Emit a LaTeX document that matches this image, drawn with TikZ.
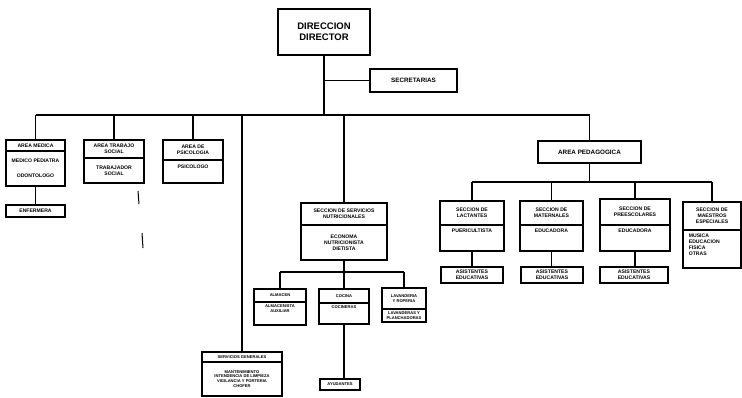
\documentclass[tikz,border=0pt]{standalone}
\usepackage{fontspec}
\setmainfont{Liberation Sans}
\begin{document}
\begin{tikzpicture}[x=1pt,y=-1pt,
  box/.style={draw,line width=1.7pt,inner sep=0.5pt,align=center,font=\bfseries\fontsize{5.1}{5.9}\selectfont},
  txt/.style={inner sep=0.5pt,align=center,font=\bfseries\fontsize{5.1}{5.9}\selectfont},
  big/.style={font=\bfseries\fontsize{9.5}{11}\selectfont},
  mid/.style={font=\bfseries\fontsize{6.3}{7.3}\selectfont},
  tiny/.style={font=\bfseries\fontsize{4.1}{4.9}\selectfont},
  conn/.style={line width=1.6pt},
  stray/.style={line width=1pt}]
\useasboundingbox[fill=white] (0,0) rectangle (742,397);
\newcommand{\mkbox}[7][]{\node[box,minimum width=#5pt,minimum height=#6pt,#1] (#2) at ({#3+#5/2},{#4+#6/2}) {#7};}
% top
\mkbox[big]{dir}{278}{9}{92}{46}{DIRECCION\\DIRECTOR}
\mkbox[mid]{sec}{370}{69}{87}{23}{SECRETARIAS}
\coordinate (bus) at (0,115);
% left areas
\mkbox{medA}{6}{140}{59}{11}{AREA MEDICA}
\mkbox{medB}{6}{151}{59}{35}{MEDICO PEDIATRA\\[9pt]ODONTOLOGO}
\mkbox{enf}{6}{205}{59}{12}{ENFERMERA}
\mkbox{tsA}{84}{140}{60}{18}{AREA TRABAJO\\SOCIAL}
\mkbox{tsB}{84}{158}{60}{25}{TRABAJADOR\\SOCIAL}
\mkbox{psiA}{163}{140}{60}{20}{AREA DE\\PSICOLOGIA}
\mkbox{psiB}{163}{160}{60}{23}{}
\node[txt,anchor=north] (psiT) at ([yshift=-5pt]psiB.north) {PSICOLOGO};
% servicios generales
\mkbox[tiny]{sgA}{202}{352}{80}{10}{SERVICIOS GENERALES}
\mkbox[tiny]{sgB}{202}{362}{80}{34}{MANTENIMIENTO\\INTENDENCIA DE LIMPIEZA\\VIGILANCIA Y PORTERIA\\CHOFER}
% nutricion
\mkbox{snA}{301}{203}{86}{22}{SECCION DE SERVICIOS\\NUTRICIONALES}
\mkbox{snB}{301}{225}{86}{35}{ECONOMA\\NUTRICIONISTA\\DIETISTA}
\mkbox[tiny]{almA}{254}{289}{52}{13}{ALMACEN}
\mkbox[tiny]{almB}{254}{302}{52}{23}{}
\node[txt,tiny,anchor=north] (almT) at ([yshift=-3pt]almB.north) {ALMACENISTA\\AUXILIAR};
\mkbox[tiny]{cocA}{319}{289}{50}{14}{COCINA}
\mkbox[tiny]{cocB}{319}{303}{50}{21}{}
\node[txt,tiny,anchor=north] (cocT) at ([yshift=-3pt]cocB.north) {COCINERAS};
\mkbox[tiny]{lavA}{382}{288}{44}{21}{LAVANDERIA\\Y ROPERIA}
\mkbox[tiny]{lavB}{382}{309}{44}{13}{LAVANDERAS Y\\PLANCHADORAS}
\mkbox[tiny]{ayu}{320}{379}{40}{11}{AYUDANTES}
% pedagogica
\mkbox[mid]{ped}{538}{141}{103}{22}{AREA PEDAGOGICA}
\coordinate (bus2) at (0,182);
\mkbox{lacA}{440}{201}{64}{24}{SECCION DE\\LACTANTES}
\mkbox{lacB}{440}{225}{64}{26}{}
\node[txt,anchor=north] (lacT) at ([yshift=-4pt]lacB.north) {PUERICULTISTA};
\mkbox{matA}{520}{201}{63}{24}{SECCION DE\\MATERNALES}
\mkbox{matB}{520}{225}{63}{26}{}
\node[txt,anchor=north] (matT) at ([yshift=-4pt]matB.north) {EDUCADORA};
\mkbox{preA}{600}{199}{70}{26}{SECCION DE\\PREESCOLARES}
\mkbox{preB}{600}{225}{70}{26}{}
\node[txt,anchor=north] (preT) at ([yshift=-4pt]preB.north) {EDUCADORA};
\mkbox{espA}{683}{202}{58}{28}{SECCION DE\\MAESTROS\\ESPECIALES}
\mkbox{espB}{683}{230}{58}{38}{}
\node[txt,anchor=north west,align=left] (espT) at ([xshift=6pt,yshift=-4pt]espB.north west) {MUSICA\\EDUCACION\\FISICA\\OTRAS};
\mkbox{lacS}{441}{267}{62}{16}{ASISTENTES\\EDUCATIVAS}
\mkbox{matS}{521}{267}{62}{16}{ASISTENTES\\EDUCATIVAS}
\mkbox{preS}{600}{267}{68}{16}{ASISTENTES\\EDUCATIVAS}
% connectors
\draw[conn] (dir.south) -- (dir.south |- bus);
\draw[conn] (dir.south |- sec.west) -- (sec.west);
\draw[conn] (medA.north |- bus) -- (ped.north |- bus);
\foreach \n in {medA,tsA,psiA,sgA,snA,ped} \draw[conn] (\n.north) -- (\n.north |- bus);
\draw[conn] (medB.south) -- (medB.south |- enf.north);
\coordinate (bus3) at (0,272);
\draw[conn] (snB.south) -- (snB.south |- bus3);
\draw[conn] (almA.north |- bus3) -- (lavA.north |- bus3);
\foreach \n in {almA,cocA,lavA} \draw[conn] (\n.north) -- (\n.north |- bus3);
\draw[conn] (cocB.south) -- (cocB.south |- ayu.north);
\draw[conn] (ped.south) -- (ped.south |- bus2);
\draw[conn] (lacA.north |- bus2) -- (espA.north |- bus2);
\foreach \n in {lacA,matA,preA,espA} \draw[conn] (\n.north) -- (\n.north |- bus2);
\draw[conn] (lacB.south) -- (lacB.south |- lacS.north);
\draw[conn] (matB.south) -- (matB.south |- matS.north);
\draw[conn] (preB.south) -- (preB.south |- preS.north);
% scan marks
\coordinate (m1a) at (138,191); \coordinate (m1b) at (139,204);
\coordinate (m2a) at (142,233); \coordinate (m2b) at (143,248);
\draw[stray] (m1a) -- (m1b);
\draw[stray] (m2a) -- (m2b);
\end{tikzpicture}
\end{document}
